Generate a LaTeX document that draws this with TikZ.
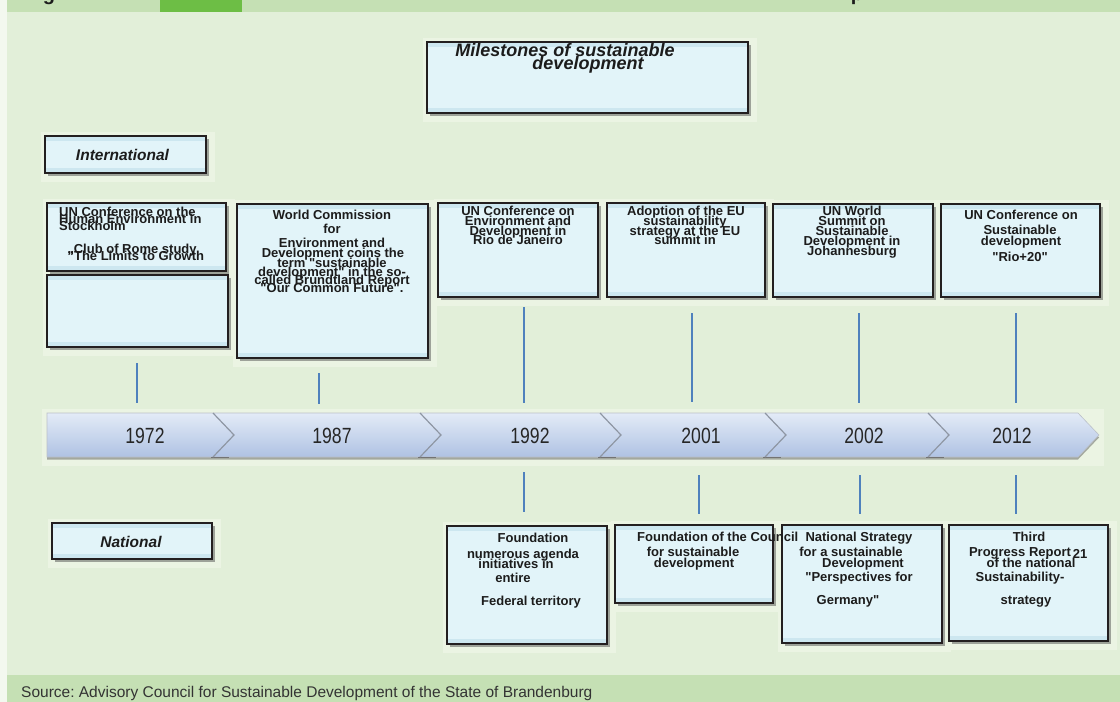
\documentclass[tikz,border=0pt]{standalone}
\usepackage{graphicx}
\usepackage{fontspec}
\setmainfont{Liberation Sans}
\usetikzlibrary{shadows,fit,calc}
\frenchspacing
\definecolor{bandg}{HTML}{C5E0B4}
\definecolor{brightg}{HTML}{6DBE45}
\definecolor{bgg}{HTML}{E2EFD9}
\definecolor{edgew}{HTML}{F3F8EF}
\definecolor{halo}{HTML}{EBF4E3}
\definecolor{boxfill}{HTML}{E2F4F9}
\definecolor{boxstrip}{HTML}{CDE7F0}
\definecolor{boxline}{HTML}{231F20}
\definecolor{vline}{HTML}{4F81BD}
\definecolor{tltop}{HTML}{E3EBF7}
\definecolor{tlbot}{HTML}{AFC2E3}
\definecolor{notchc}{HTML}{8E96A3}
\definecolor{txt}{HTML}{1C1C1C}
\tikzset{
  bx/.style={draw=boxline, line width=1.4pt, fill=boxfill, inner sep=0pt,
    drop shadow={shadow xshift=3pt, shadow yshift=-3pt, opacity=.45, fill=black!75},
    path picture={
      \fill[boxstrip] (path picture bounding box.north west) rectangle ([yshift=-5pt]path picture bounding box.north east);
      \fill[boxstrip] (path picture bounding box.south west) rectangle ([yshift=5pt]path picture bounding box.south east);}},
  ln/.style={inner sep=0pt, text height=9.3pt, text depth=0pt, text=txt,
    font=\bfseries\fontsize{13}{13}\selectfont},
  lbl/.style={inner sep=0pt, text height=11pt, text depth=0pt, text=txt,
    font=\bfseries\itshape\fontsize{15.5}{15.5}\selectfont},
  ttl/.style={inner sep=0pt, text height=13pt, text depth=0pt, text=txt,
    font=\bfseries\itshape\fontsize{18}{18}\selectfont},
  yr/.style={inner sep=0pt, text height=16pt, text depth=0pt, text=black!85,
    font=\fontsize{22}{22}\selectfont},
  vl/.style={draw=vline, line width=2pt},
}
\newcommand\tline[4]{\node[ln] (#1) at (#2,#3) {#4};}
\newcommand\tlineW[4]{\node[ln, anchor=west] (#1) at (#2,#3) {#4};}
\newcommand\yrtxt[1]{\scalebox{0.8}[1]{#1}}
\newcommand\qd{\textquotedbl}
\begin{document}
\begin{tikzpicture}[x=1pt,y=-1pt]
\useasboundingbox (0,0) rectangle (1120,702);
% background
\fill[edgew] (0,0) rectangle (1120,702);
\fill[bgg] (7,12) rectangle (1120,675);
\fill[bandg] (7,0) rectangle (1120,12);
\fill[brightg] (160,0) rectangle (242,12);
\fill[bandg] (7,675) rectangle (1120,702);
\begin{scope}
  \clip (0,0) rectangle (1120,12);
  \node[anchor=base, inner sep=0pt, font=\bfseries\fontsize{20}{20}\selectfont, text=txt] (tg) at (49,0.5) {g};
  \node[anchor=base, inner sep=0pt, font=\bfseries\fontsize{20}{20}\selectfont, text=txt] (tp) at (857,0.5) {p};
\end{scope}
% halos
\foreach \a/\b/\c/\d in {427/42/748/113, 45/136/206/173, 52/523/212/559,
  47/203/226/271, 47/275/228/347, 237/204/428/358, 438/203/598/297,
  607/203/765/297, 773/204/933/297, 941/204/1100/297,
  447/526/607/644, 615/525/773/603, 782/525/942/643, 949/525/1108/641}
  {\fill[halo] (\a-4,\b-4) rectangle (\c+9,\d+9);}
\fill[halo] (42,409) rectangle (1104,466);
% boxes
\foreach \n/\a/\b/\c/\d in {title/427/42/748/113, intl/45/136/206/173, natl/52/523/212/559,
  tA/47/203/226/271, tB/47/275/228/347, t87/237/204/428/358, t92/438/203/598/297,
  t01/607/203/765/297, t02/773/204/933/297, t12/941/204/1100/297,
  n92/447/526/607/644, n01/615/525/773/603, n02/782/525/942/643, n12/949/525/1108/641}
  {\node[bx, fit={(\a,\b) (\c,\d)}] (\n) {};}
% timeline
\path[draw=notchc!60, line width=0.6pt, top color=tltop, bottom color=tlbot,
  drop shadow={shadow xshift=0pt, shadow yshift=-2.5pt, opacity=.45, fill=black!70}]
  (47,413) -- (1078,413) -- (1099,435) -- (1078,457) -- (47,457) -- cycle;
\foreach \x in {213,420,600,765,928}{
  \draw[black!55, line width=1.6pt] (\x-2,457.5) -- (\x+16,457.5);
  \draw[notchc, line width=1.2pt] (\x,413) -- (\x+21,435) -- (\x,457);}
\node[yr] (y72) at (145,435) {\yrtxt{1972}};
\node[yr] (y87) at (332,435) {\yrtxt{1987}};
\node[yr] (y92) at (530,435) {\yrtxt{1992}};
\node[yr] (y01) at (701,435) {\yrtxt{2001}};
\node[yr] (y02) at (864,435) {\yrtxt{2002}};
\node[yr] (y12) at (1012,435) {\yrtxt{2012}};
% connectors
\foreach \n/\x/\p/\q in {a72/137/363/403, a87/319/373/404, a92/524/307/403, a01/692/313/402,
  a02/859/313/403, a12/1016/313/403, b92/524/472/512, b01/699/475/514, b02/860/475/514, b12/1016/475/514}{
  \coordinate (\n s) at (\x,\p);
  \coordinate (\n e) at (\x,\q);
  \draw[vl] (\n s) -- (\n e);}
% labels
\node[ttl] (ttl1) at (565,50) {Milestones of sustainable};
\node[ttl] (ttl2) at (588,63) {development};
\node[lbl] (lint) at (122.5,155) {International};
\node[lbl] (lnat) at (131,542) {National};
% 1972
\tlineW{A1}{59}{212}{UN Conference on the}
\tlineW{A2}{59}{219}{Human Environment in}
\tlineW{A3}{59}{226}{Stockholm}
\tline{A4}{132}{249}{„Club of Rome study}
\tline{A5}{136}{256}{\qd The Limits to Growth}
% 1987
\tline{B1}{332}{215}{World Commission}
\tline{B2}{332}{229}{for}
\tline{B3}{332}{243}{Environment and}
\tline{B4}{333}{253}{Development coins the}
\tline{B5}{332}{263}{term \qd sustainable}
\tline{B6}{332}{272}{development\qd{} in the so-}
\tline{B7}{332}{280}{called Brundtland Report}
\tline{B8}{332}{288}{\qd Our Common Future\qd .}
% 1992
\tline{C1}{518}{211}{UN Conference on}
\tline{C2}{518}{221}{Environment and}
\tline{C3}{518}{231}{Development in}
\tline{C4}{518}{240}{Rio de Janeiro}
% 2001
\tline{D1}{686}{211}{Adoption of the EU}
\tline{D2}{685}{221}{sustainability}
\tline{D3}{685}{231}{strategy at the EU}
\tline{D4}{685}{240}{summit in}
% 2002
\tline{E1}{852}{211}{UN World}
\tline{E2}{852}{221}{Summit on}
\tline{E3}{852}{231}{Sustainable}
\tline{E4}{852}{241}{Development in}
\tline{E5}{852}{251}{Johannesburg}
% 2012
\tline{F1}{1021}{215}{UN Conference on}
\tline{F2}{1020}{230}{Sustainable}
\tline{F3}{1021}{241}{development}
\tline{F4}{1020}{257}{\qd Rio+20\qd}
% national 1992
\tline{G1}{533}{538}{Foundation}
\tline{G2}{523}{554}{numerous agenda}
\tline{G3}{516}{564}{initiatives in}
\tline{G4}{513}{578}{entire}
\tline{G5}{531}{601}{Federal territory}
% national 2001
\tlineW{H1}{637}{537}{Foundation of the Council}
\tline{H2}{693}{552}{for sustainable}
\tline{H3}{694}{563}{development}
% national 2002
\tline{I1}{859}{537}{National Strategy}
\tline{I2}{851}{552}{for a sustainable}
\tline{I3}{863}{563}{Development}
\tline{I4}{859}{577}{\qd Perspectives for}
\tline{I5}{848}{600}{Germany\qd}
% national 2012
\tline{J1}{1029}{537}{Third}
\tline{J2}{1020}{552}{Progress Report}
\tline{J3}{1080}{554}{21}
\tline{J4}{1031}{563}{of the national}
\tline{J5}{1020}{577}{Sustainability-}
\tline{J6}{1026}{600}{strategy}
% source
\node[anchor=west, inner sep=0pt, text height=11pt, text depth=0pt, text=black!80,
  font=\fontsize{15.5}{15.5}\selectfont] (src) at (21,692)
  {Source: Advisory Council for Sustainable Development of the State of Brandenburg};
\end{tikzpicture}
\end{document}
